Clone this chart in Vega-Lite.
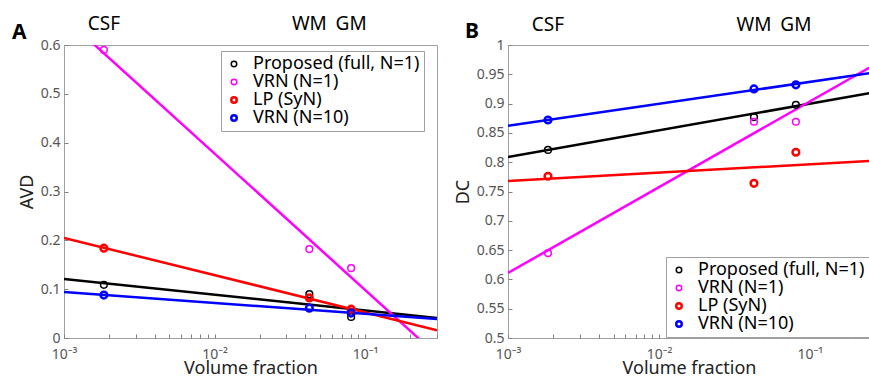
{
  "$schema": "https://vega.github.io/schema/vega-lite/v6.json",
  "padding": {"left": 11, "top": 14, "right": 0, "bottom": 0},
  "bounds": "flush",
  "spacing": 71,
  "background": "white",
  "config": {
    "font": "Noto Sans",
    "view": {"stroke": "#a0a0a0", "strokeWidth": 1},
    "axis": {"grid": false, "domain": false, "tickColor": "#808080", "tickSize": -4, "labelPadding": 8, "labelFontSize": 14, "labelColor": "#555555", "titleFontSize": 18, "titleFontWeight": "normal", "titleColor": "#222222", "labelOverlap": false},
    "title": {"fontSize": 21, "fontWeight": "bold", "color": "black"}
  },
  "datasets": {
    "tissues": [
      {"tissue": "CSF", "vf": 0.00184},
      {"tissue": "WM", "vf": 0.0426},
      {"tissue": "GM", "vf": 0.0807}
    ],
    "avd_pts": [
      {"series": "Proposed (full, N=1)", "tissue": "CSF", "vf": 0.00184, "value": 0.109},
      {"series": "Proposed (full, N=1)", "tissue": "WM", "vf": 0.0426, "value": 0.090},
      {"series": "Proposed (full, N=1)", "tissue": "GM", "vf": 0.0807, "value": 0.043},
      {"series": "VRN (N=1)", "tissue": "CSF", "vf": 0.00184, "value": 0.590},
      {"series": "VRN (N=1)", "tissue": "WM", "vf": 0.0426, "value": 0.182},
      {"series": "VRN (N=1)", "tissue": "GM", "vf": 0.0807, "value": 0.143},
      {"series": "LP (SyN)", "tissue": "CSF", "vf": 0.00184, "value": 0.184},
      {"series": "LP (SyN)", "tissue": "WM", "vf": 0.0426, "value": 0.082},
      {"series": "LP (SyN)", "tissue": "GM", "vf": 0.0807, "value": 0.059},
      {"series": "VRN (N=10)", "tissue": "CSF", "vf": 0.00184, "value": 0.088},
      {"series": "VRN (N=10)", "tissue": "WM", "vf": 0.0426, "value": 0.061},
      {"series": "VRN (N=10)", "tissue": "GM", "vf": 0.0807, "value": 0.051}
    ],
    "avd_fit": [
      {"series": "Proposed (full, N=1)", "vf": 0.001, "value": 0.121},
      {"series": "Proposed (full, N=1)", "vf": 0.3, "value": 0.041},
      {"series": "VRN (N=1)", "vf": 0.001, "value": 0.657},
      {"series": "VRN (N=1)", "vf": 0.3, "value": -0.035},
      {"series": "LP (SyN)", "vf": 0.001, "value": 0.205},
      {"series": "LP (SyN)", "vf": 0.3, "value": 0.016},
      {"series": "VRN (N=10)", "vf": 0.001, "value": 0.094},
      {"series": "VRN (N=10)", "vf": 0.3, "value": 0.039}
    ],
    "dc_pts": [
      {"series": "Proposed (full, N=1)", "tissue": "CSF", "vf": 0.00184, "value": 0.821},
      {"series": "Proposed (full, N=1)", "tissue": "WM", "vf": 0.0426, "value": 0.877},
      {"series": "Proposed (full, N=1)", "tissue": "GM", "vf": 0.0807, "value": 0.898},
      {"series": "VRN (N=1)", "tissue": "CSF", "vf": 0.00184, "value": 0.645},
      {"series": "VRN (N=1)", "tissue": "WM", "vf": 0.0426, "value": 0.869},
      {"series": "VRN (N=1)", "tissue": "GM", "vf": 0.0807, "value": 0.869},
      {"series": "LP (SyN)", "tissue": "CSF", "vf": 0.00184, "value": 0.776},
      {"series": "LP (SyN)", "tissue": "WM", "vf": 0.0426, "value": 0.764},
      {"series": "LP (SyN)", "tissue": "GM", "vf": 0.0807, "value": 0.817},
      {"series": "VRN (N=10)", "tissue": "CSF", "vf": 0.00184, "value": 0.872},
      {"series": "VRN (N=10)", "tissue": "WM", "vf": 0.0426, "value": 0.925},
      {"series": "VRN (N=10)", "tissue": "GM", "vf": 0.0807, "value": 0.932}
    ],
    "dc_fit": [
      {"series": "Proposed (full, N=1)", "vf": 0.001, "value": 0.809},
      {"series": "Proposed (full, N=1)", "vf": 0.25, "value": 0.918},
      {"series": "VRN (N=1)", "vf": 0.001, "value": 0.611},
      {"series": "VRN (N=1)", "vf": 0.25, "value": 0.962},
      {"series": "LP (SyN)", "vf": 0.001, "value": 0.768},
      {"series": "LP (SyN)", "vf": 0.25, "value": 0.802},
      {"series": "VRN (N=10)", "vf": 0.001, "value": 0.862},
      {"series": "VRN (N=10)", "vf": 0.25, "value": 0.952}
    ]
  },
  "resolve": {"scale": {"color": "independent", "strokeWidth": "independent"}},
  "hconcat": [
    {
      "width": 373,
      "height": 293,
      "title": {"text": "A", "anchor": "start", "frame": "group", "dx": -52, "dy": 32},
      "layer": [
        {
          "data": {"name": "avd_fit"},
          "mark": {"type": "line", "strokeWidth": 2.5, "clip": true},
          "encoding": {
            "x": {"field": "vf", "type": "quantitative", "title": "Volume fraction",
                  "scale": {"type": "log", "domain": [0.001, 0.3], "nice": false},
                  "axis": {"values": [0.001,0.002,0.003,0.004,0.005,0.006,0.007,0.008,0.009,0.01,0.02,0.03,0.04,0.05,0.06,0.07,0.08,0.09,0.1,0.2,0.3],
                           "tickCount": 30,
                           "labelExpr": "datum.value == 0.001 ? '10⁻³' : datum.value == 0.01 ? '10⁻²' : datum.value == 0.1 ? '10⁻¹' : ''",
                           "labelFlush": false, "labelOverlap": false, "labelPadding": 13, "titlePadding": -2}},
            "y": {"field": "value", "type": "quantitative", "title": "AVD",
                  "scale": {"domain": [0, 0.6], "nice": false},
                  "axis": {"values": [0, 0.1, 0.2, 0.3, 0.4, 0.5, 0.6], "tickCount": 20, "format": ".1~f", "labelOverlap": false, "titlePadding": 4}},
            "color": {"field": "series", "type": "nominal",
                      "scale": {"domain": ["Proposed (full, N=1)", "VRN (N=1)", "LP (SyN)", "VRN (N=10)"], "range": ["#000000", "#ff00ff", "#ff0000", "#0000ff"]}}
          }
        },
        {
          "data": {"name": "avd_pts"},
          "mark": {"type": "point", "shape": "circle", "filled": false, "size": 45, "opacity": 1},
          "encoding": {
            "x": {"field": "vf", "type": "quantitative"},
            "y": {"field": "value", "type": "quantitative"},
            "color": {"field": "series", "type": "nominal",
                      "legend": {"title": null, "orient": "none", "legendX": 157, "legendY": 6, "symbolType": "circle", "symbolSize": 30, "symbolStrokeWidth": 2, "labelFontSize": 18, "labelColor": "black", "strokeColor": "#a0a0a0", "fillColor": "white", "padding": 4, "rowPadding": 0, "labelOffset": 10, "labelLimit": 300}},
            "strokeWidth": {"field": "series", "type": "nominal", "legend": null,
                            "scale": {"type": "ordinal", "domain": ["Proposed (full, N=1)", "VRN (N=1)", "LP (SyN)", "VRN (N=10)"], "range": [1.5, 1.5, 2.5, 2.5]}}
          }
        },
        {
          "data": {"name": "tissues"},
          "mark": {"type": "text", "fontSize": 19, "clip": false, "color": "black", "baseline": "middle"},
          "encoding": {
            "x": {"field": "vf", "type": "quantitative"},
            "y": {"datum": 0.644, "type": "quantitative"},
            "text": {"field": "tissue"}
          }
        }
      ]
    },
    {
      "width": 362,
      "height": 293,
      "title": {"text": "B", "anchor": "start", "frame": "group", "dx": -43, "dy": 30},
      "layer": [
        {
          "data": {"name": "dc_fit"},
          "mark": {"type": "line", "strokeWidth": 2.5, "clip": true},
          "encoding": {
            "x": {"field": "vf", "type": "quantitative", "title": "Volume fraction",
                  "scale": {"type": "log", "domain": [0.001, 0.25], "nice": false},
                  "axis": {"values": [0.001,0.002,0.003,0.004,0.005,0.006,0.007,0.008,0.009,0.01,0.02,0.03,0.04,0.05,0.06,0.07,0.08,0.09,0.1,0.2],
                           "tickCount": 30,
                           "labelExpr": "datum.value == 0.001 ? '10⁻³' : datum.value == 0.01 ? '10⁻²' : datum.value == 0.1 ? '10⁻¹' : ''",
                           "labelFlush": false, "labelOverlap": false, "labelPadding": 13, "titlePadding": -2}},
            "y": {"field": "value", "type": "quantitative", "title": "DC",
                  "scale": {"domain": [0.5, 1], "nice": false, "zero": false},
                  "axis": {"values": [0.5, 0.55, 0.6, 0.65, 0.7, 0.75, 0.8, 0.85, 0.9, 0.95, 1], "tickCount": 20, "format": ".2~f", "labelOverlap": false, "titlePadding": 4}},
            "color": {"field": "series", "type": "nominal",
                      "scale": {"domain": ["Proposed (full, N=1)", "VRN (N=1)", "LP (SyN)", "VRN (N=10)"], "range": ["#000000", "#ff00ff", "#ff0000", "#0000ff"]}}
          }
        },
        {
          "data": {"name": "dc_pts"},
          "mark": {"type": "point", "shape": "circle", "filled": false, "size": 45, "opacity": 1},
          "encoding": {
            "x": {"field": "vf", "type": "quantitative"},
            "y": {"field": "value", "type": "quantitative"},
            "color": {"field": "series", "type": "nominal",
                      "legend": {"title": null, "orient": "none", "legendX": 158, "legendY": 212, "symbolType": "circle", "symbolSize": 30, "symbolStrokeWidth": 2, "labelFontSize": 18, "labelColor": "black", "strokeColor": "#a0a0a0", "fillColor": "white", "padding": 4, "rowPadding": 0, "labelOffset": 10, "labelLimit": 300}},
            "strokeWidth": {"field": "series", "type": "nominal", "legend": null,
                            "scale": {"type": "ordinal", "domain": ["Proposed (full, N=1)", "VRN (N=1)", "LP (SyN)", "VRN (N=10)"], "range": [1.5, 1.5, 2.5, 2.5]}}
          }
        },
        {
          "data": {"name": "tissues"},
          "mark": {"type": "text", "fontSize": 19, "clip": false, "color": "black", "baseline": "middle"},
          "encoding": {
            "x": {"field": "vf", "type": "quantitative"},
            "y": {"datum": 1.034, "type": "quantitative"},
            "text": {"field": "tissue"}
          }
        }
      ]
    }
  ]
}
